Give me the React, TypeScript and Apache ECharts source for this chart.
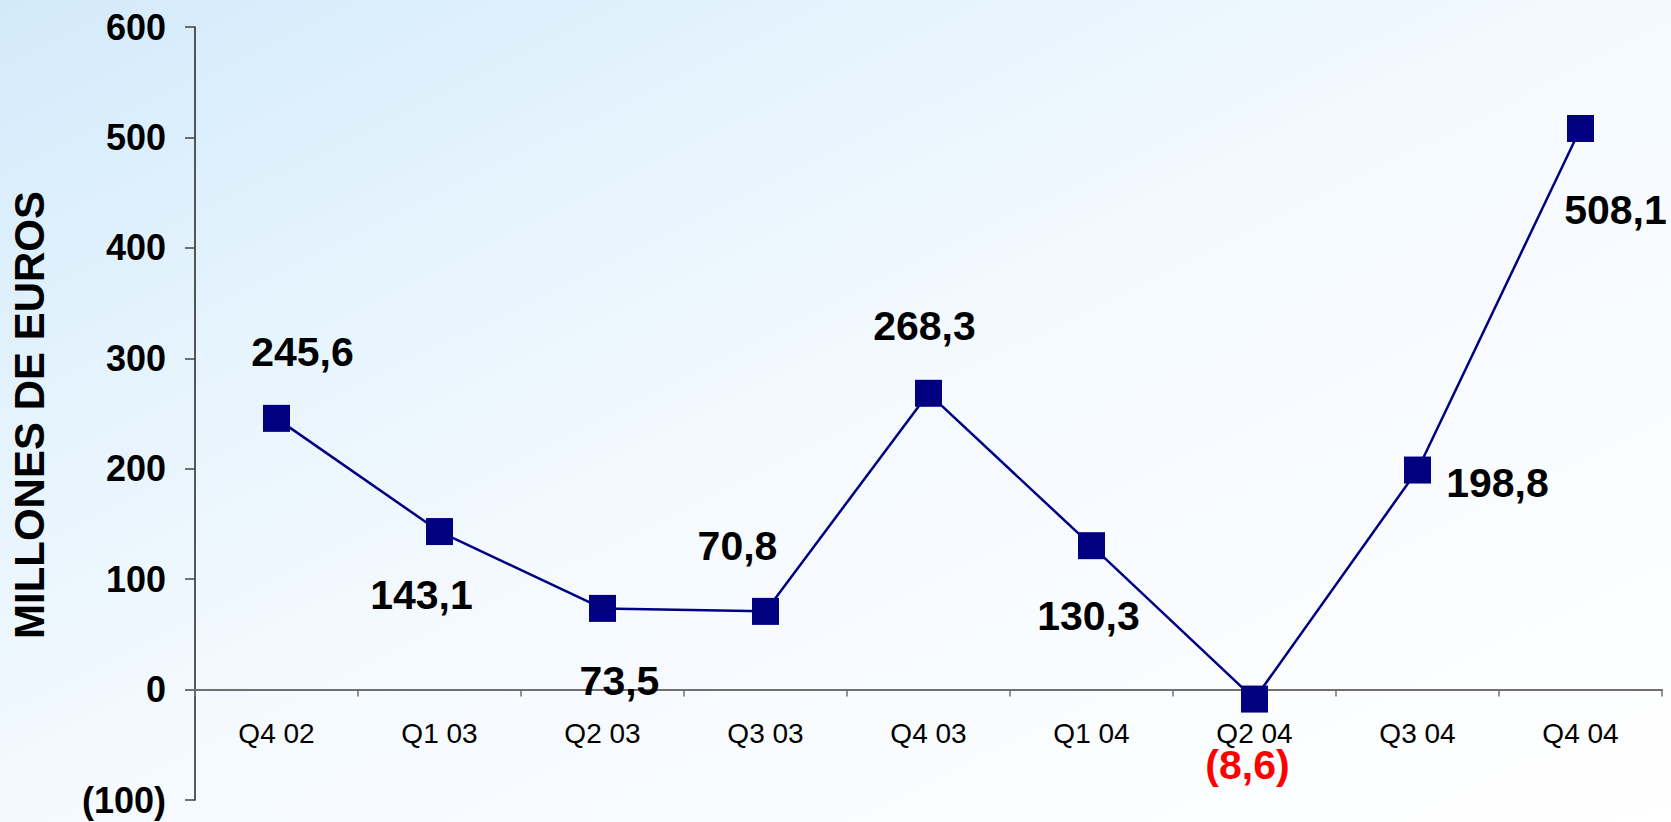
import React, { useEffect, useRef } from "react";
import * as echarts from "echarts";

const categories = ["Q4 02", "Q1 03", "Q2 03", "Q3 03", "Q4 03", "Q1 04", "Q2 04", "Q3 04", "Q4 04"];
const values = [245.6, 143.1, 73.5, 70.8, 268.3, 130.3, -8.6, 198.8, 508.1];
const yTicks = { min: -100, max: 600, interval: 100 };
const yAxisTitle = "MILLONES DE EUROS";

// label placement relative to each marker (layout, not data)
const labelOffsets: [number, number][] = [
  [26, -66],
  [-18, 63],
  [17, 73],
  [-28, -65],
  [-4, -67],
  [-3, 70],
  [-7, 66],
  [80, 13],
  [35, 82],
];

const fmt = (v: number) => {
  const s = Math.abs(v).toFixed(1).replace(".", ",");
  return v < 0 ? `(${s})` : s;
};
const fmtAxis = (v: number) => (v < 0 ? `(${Math.abs(v)})` : `${v}`);

const GRID_TOP = 27;
const GRID_BOTTOM = 22;
const H = 822;

export default function App() {
  const ref = useRef<HTMLDivElement>(null);
  useEffect(() => {
    if (!ref.current) return;
    const chart = echarts.init(ref.current, null, { renderer: "svg" });
    const font = "Liberation Sans, Arial, Helvetica, sans-serif";
    const plotH = H - GRID_TOP - GRID_BOTTOM;
    const zeroShift = (plotH * (0 - yTicks.min)) / (yTicks.max - yTicks.min);
    chart.setOption({
      animation: false,
      backgroundColor: "transparent",
      textStyle: { fontFamily: font },
      grid: {
        left: 195,
        right: 9,
        top: GRID_TOP,
        bottom: GRID_BOTTOM,
        containLabel: false,
        outerBoundsMode: "none",
      },
      xAxis: {
        type: "category",
        data: categories,
        boundaryGap: true,
        offset: -zeroShift,
        axisLine: { onZero: false, lineStyle: { color: "#707070", width: 2 } },
        axisTick: { show: true, length: 7, inside: false, lineStyle: { color: "#707070", width: 1.5 } },
        axisLabel: { color: "#000", fontSize: 28, fontFamily: font, margin: 30 },
        splitLine: { show: false },
      },
      yAxis: {
        type: "value",
        min: yTicks.min,
        max: yTicks.max,
        interval: yTicks.interval,
        axisLine: { show: true, lineStyle: { color: "#222", width: 1.5 } },
        axisTick: { show: true, length: 10, lineStyle: { color: "#444", width: 1.5 } },
        axisLabel: {
          color: "#000",
          fontSize: 36,
          fontWeight: "bold",
          fontFamily: font,
          margin: 29,
          formatter: fmtAxis,
        },
        splitLine: { show: false },
      },
      graphic: [
        {
          type: "text",
          x: 29,
          y: 415,
          rotation: Math.PI / 2,
          style: {
            text: yAxisTitle,
            fill: "#000",
            font: `bold 42px ${font}`,
            textAlign: "center",
            textVerticalAlign: "middle",
          },
        },
      ],
      series: [
        {
          type: "line",
          data: values.map((v, i) => ({
            value: v,
            label: {
              offset: labelOffsets[i],
              color: v < 0 ? "#ff0000" : "#000",
            },
          })),
          symbol: "rect",
          symbolSize: 27,
          lineStyle: { color: "#000080", width: 2.5 },
          itemStyle: { color: "#000080" },
          label: {
            show: true,
            position: "inside",
            align: "center",
            verticalAlign: "middle",
            fontSize: 41,
            fontWeight: "bold",
            fontFamily: font,
            formatter: (p: any) => fmt(p.value),
          },
        },
      ],
    });
    return () => chart.dispose();
  }, []);
  return (
    <div
      style={{
        position: "absolute",
        left: 0,
        top: 0,
        width: 1671,
        height: 822,
        background:
          "linear-gradient(to bottom right, #d3eafb 0%, #e6f4fd 28%, #f5faff 52%, #ffffff 100%)",
      }}
    >
      <div ref={ref} style={{ width: 1671, height: 822 }} />
    </div>
  );
}
